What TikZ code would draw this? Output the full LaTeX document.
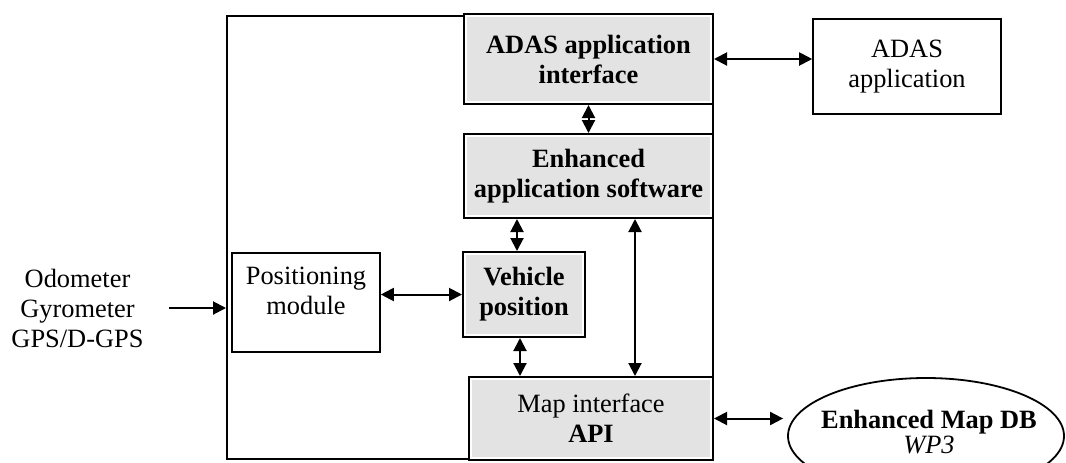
\documentclass[tikz,border=0pt]{standalone}
\usepackage{fontspec}
\setmainfont{Liberation Serif}
\usetikzlibrary{arrows.meta,shapes.geometric}
\definecolor{boxgray}{RGB}{227,227,227}

\begin{document}
\begin{tikzpicture}[x=0.5pt, y=-0.5pt, font=\fontsize{13.2}{15}\selectfont,
  frame/.style = {draw, line width=1pt, inner sep=0pt},
  plain/.style = {draw, line width=0.8pt, align=center, inner sep=0pt},
  shaded/.style = {draw, line width=1pt, fill=white, align=center, inner sep=0pt,
    path picture={\fill[boxgray] ([shift={(1.5pt,-1.5pt)}]path picture bounding box.north west)
      rectangle ([shift={(-1.5pt,1.5pt)}]path picture bounding box.south east);}},
  db/.style = {draw, ellipse, line width=0.9pt, inner sep=0pt},
  link/.style = {{Triangle[length=6.5pt,width=6.5pt]}-{Triangle[length=6.5pt,width=6.5pt]}, line width=1pt},
  feed/.style = {-{Triangle[length=6.5pt,width=6.5pt]}, line width=1pt}]
\clip (0,0) rectangle (1066,462);
\useasboundingbox (0,0) rectangle (1066,462);

\node[frame, minimum width=243pt, minimum height=221.5pt] (sys) at (470,237.5) {};
\node[shaded, minimum width=124.5pt, minimum height=45pt] (adasif) at (588.5,59) {\textbf{ADAS application}\\\textbf{interface}};
\node[shaded, minimum width=124.5pt, minimum height=42pt] (enh) at (588.5,176) {\textbf{Enhanced}\\\textbf{application software}};
\node[shaded, minimum width=61pt, minimum height=42.5pt] (veh) at (524,294.5) {\textbf{Vehicle}\\\textbf{position}};
\node[shaded, minimum width=122pt, minimum height=41.5pt] (mapif) at (591,418.5) {Map interface\\\textbf{API}};
\node[plain, minimum width=74pt, minimum height=49.5pt] (posm) at (306,302.5) {};
\node[align=center, inner sep=0pt] (posmtxt) at (306,291) {Positioning\\module};
\node[plain, minimum width=94pt, minimum height=47.5pt] (adasapp) at (907,66.5) {ADAS\\application};
\node[db, minimum width=138pt, minimum height=58pt] (mapdb) at (926,436) {};
\node[align=center, inner sep=0pt] (mapdbtxt) at (929,432) {\textbf{Enhanced Map DB}\\[-2.5pt]\textit{WP3}};
\node[align=center, inner sep=0pt] (sensors) at (77.5,308) {Odometer\\Gyrometer\\GPS/D-GPS};

\draw[feed] ([xshift=12.5pt]sensors.east) -- (sensors.east -| sys.west);
\draw[link] (veh.west -| posm.east) -- (veh.west);
\draw[link] (adasif.east) -- (adasif.east -| adasapp.west);
\draw[link] (adasif.south) -- (enh.north);
\draw[link] ([xshift=-3.5pt]veh.north) -- ([xshift=-3.5pt]veh.north |- enh.south);
\draw[link] ([xshift=-2pt]veh.south) -- ([xshift=-2pt]veh.south |- mapif.north);
\draw[link] ([xshift=23.25pt]enh.south) -- ([xshift=23.25pt]enh.south |- mapif.north);
\draw[link, shorten >=2pt] (mapif.east) -- (mapif.east -| mapdb.west);
\end{tikzpicture}
\end{document}
